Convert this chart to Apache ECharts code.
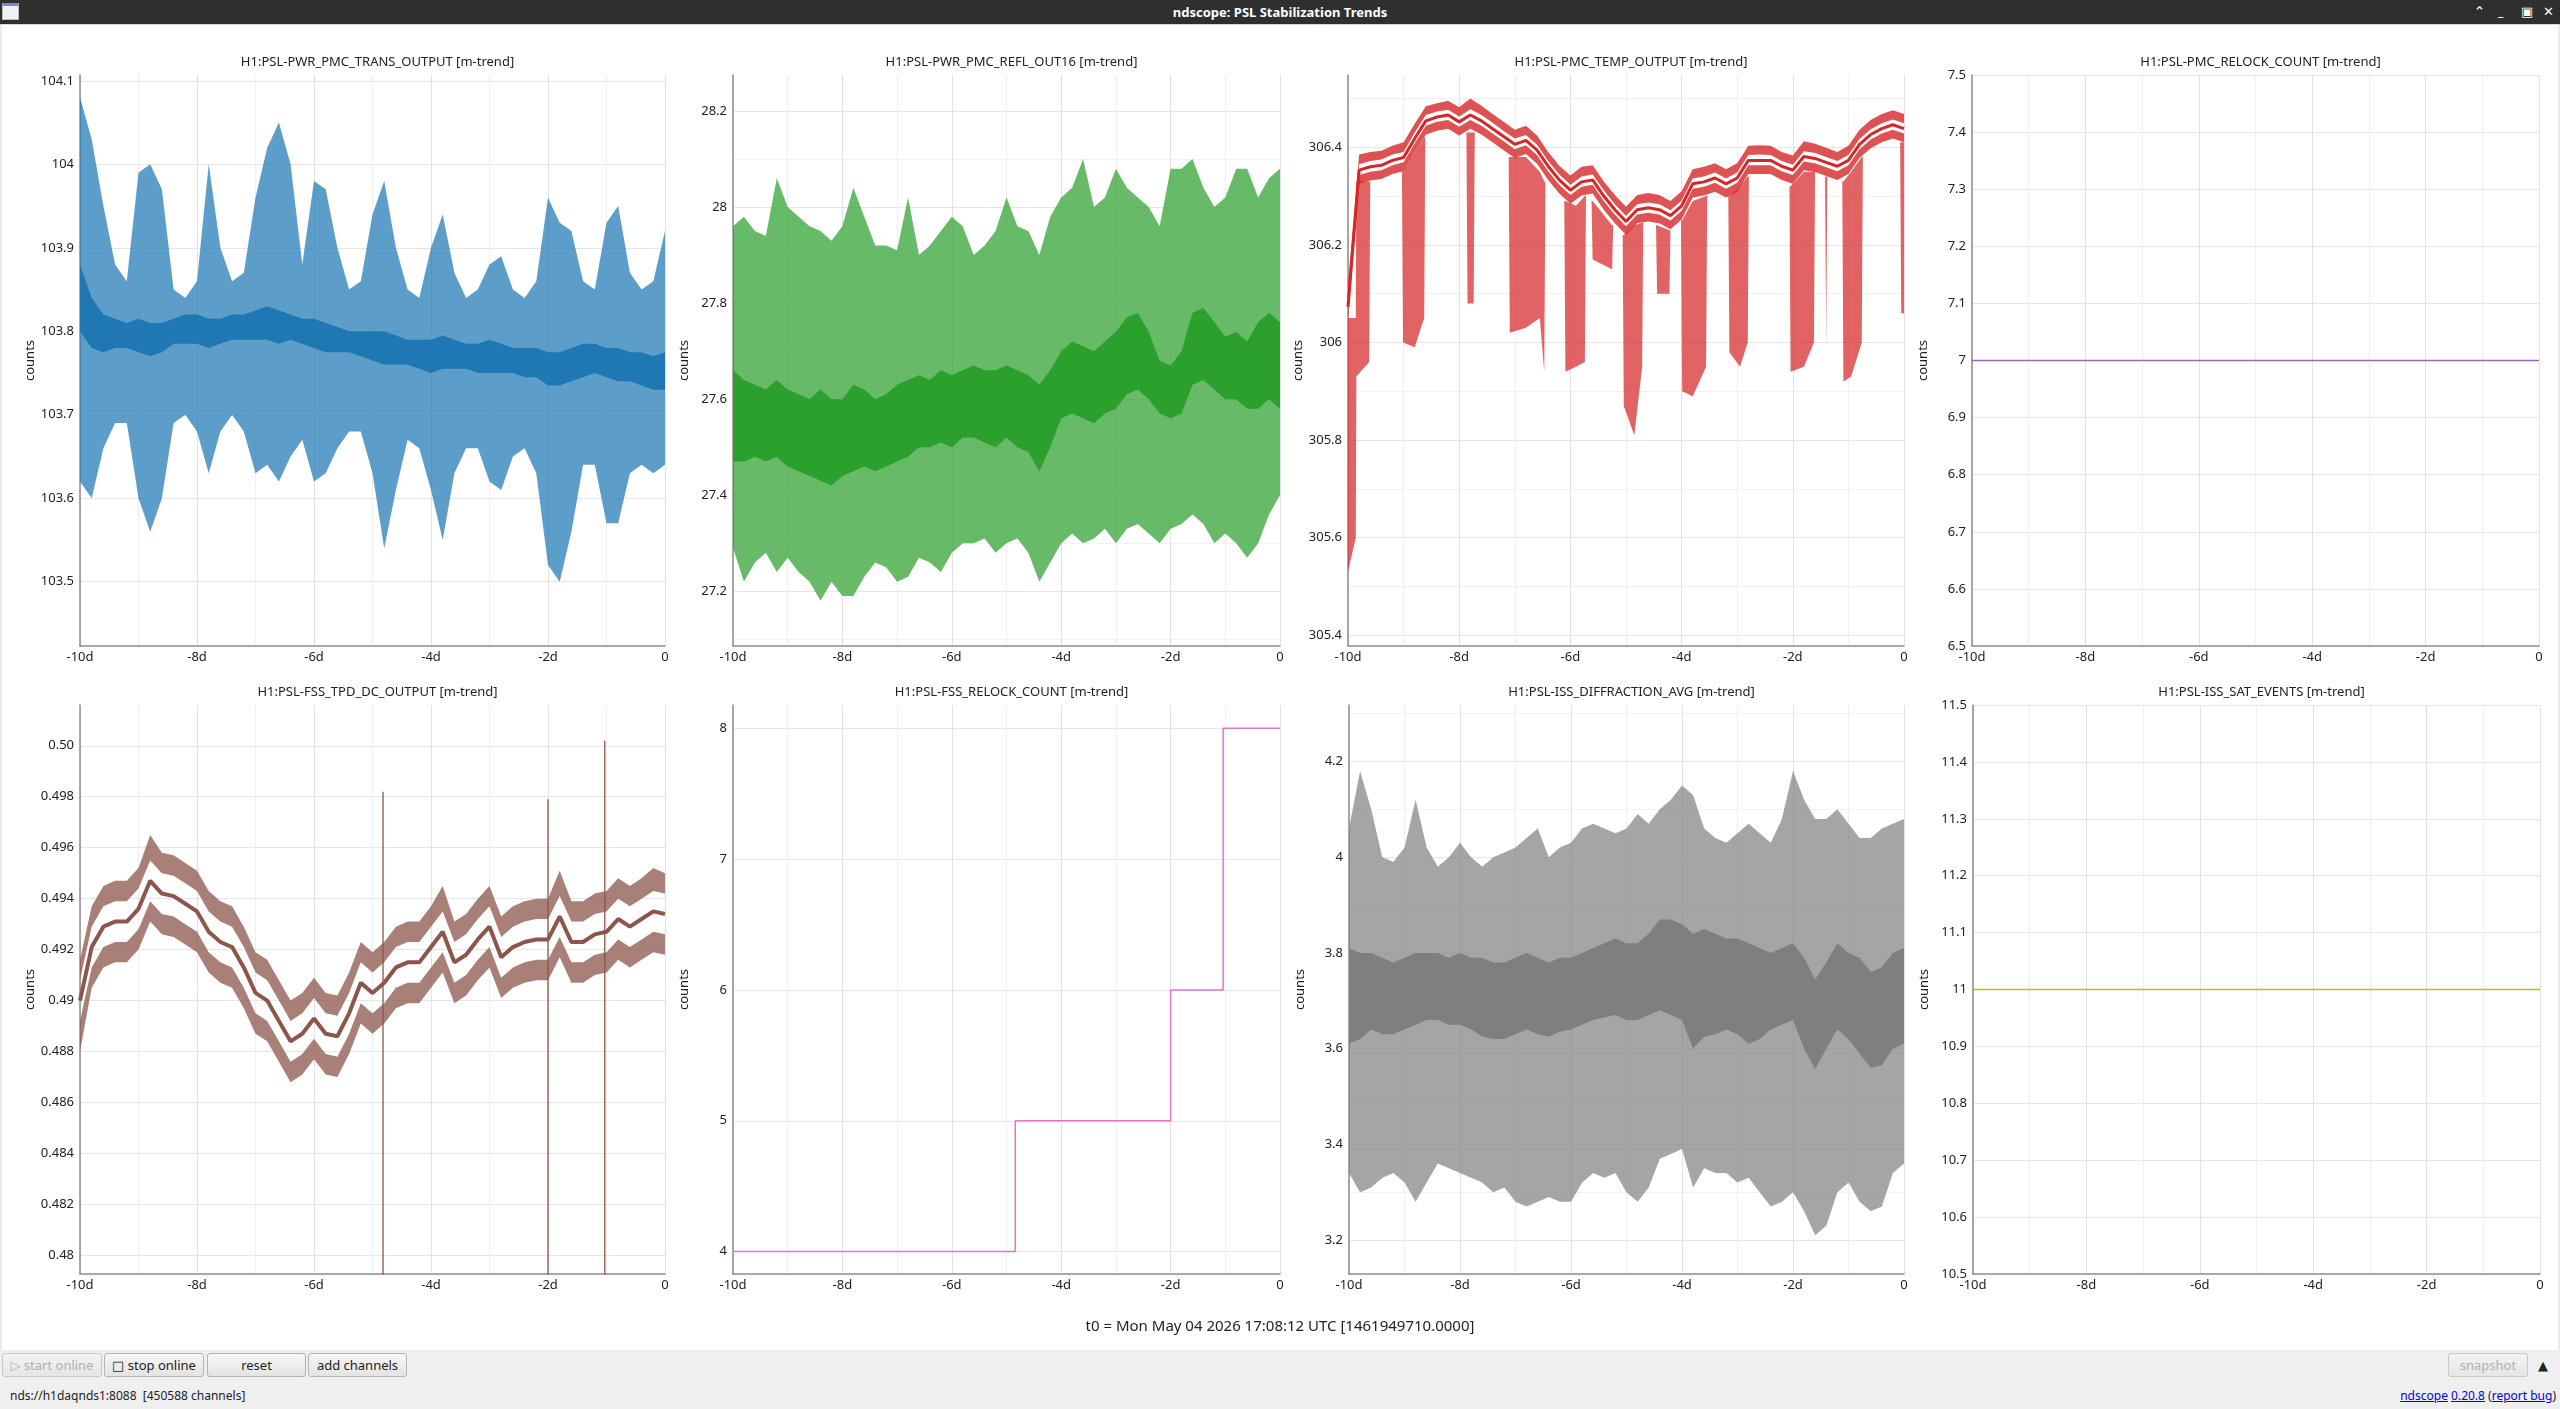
<!DOCTYPE html>
<html>
<head>
<meta charset="utf-8">
<title>ndscope: PSL Stabilization Trends</title>
<script src="https://cdn.jsdelivr.net/npm/echarts@6/dist/echarts.min.js"></script>
<style>
  html, body { margin: 0; padding: 0; width: 2560px; height: 1409px; overflow: hidden; background: #fff;
    font-family: "Noto Sans", "DejaVu Sans", sans-serif; color: #222; }
  #titlebar { position: absolute; left: 0; top: 0; width: 2560px; height: 24px; background: #2f2f2f;
    border-bottom: 1px solid #d8d8d8; z-index: 3; }
  #titlebar .name { position: absolute; left: 0; width: 2560px; top: 3px; text-align: center; color: #fff;
    font-size: 13px; font-weight: bold; }
  #titlebar .icon { position: absolute; left: 2px; top: 3px; width: 17px; height: 17px; background: #f2f2f2;
    border: 1px solid #bbb; border-top: 3px solid #6d8fc7; box-sizing: border-box; }
  #titlebar .btn { position: absolute; top: 2px; color: #fff; font-size: 13px; font-weight: bold; }
  #main { position: absolute; left: 0; top: 0; width: 2560px; height: 1350px; }
  #frame { position: absolute; left: 0; top: 25px; width: 2556px; height: 1325px; border-left: 2px solid #ececec;
    border-right: 2px solid #ececec; pointer-events: none; z-index: 2; }
  #t0 { position: absolute; left: 0; width: 2560px; top: 1315px; text-align: center; font-size: 15px; color: #222; }
  #bottom { position: absolute; left: 0; top: 1350px; width: 2560px; height: 59px; background: #efefef; }
  .qbtn { position: absolute; top: 3px; height: 24px; box-sizing: border-box; border: 1px solid #b4b4b4;
    border-radius: 3px; background: linear-gradient(#f7f7f7, #e3e3e3); font-size: 13px; line-height: 22px;
    text-align: center; color: #222; }
  .qbtn.off { color: #b0b0b0; border-color: #c8c8c8; background: linear-gradient(#f3f3f3, #e6e6e6); }
  #status { position: absolute; left: 10px; top: 37px; font-size: 12px; color: #222; }
  #links { position: absolute; right: 4px; top: 37px; font-size: 12px; color: #222; }
  #links a { color: #0000ee; text-decoration: underline; }
</style>
</head>
<body>
<div id="main"></div>
<div id="frame"></div>
<div id="titlebar">
  <div class="icon"></div>
  <div class="name">ndscope: PSL Stabilization Trends</div>
  <div class="btn" style="left:2474px">&#8963;</div>
  <div class="btn" style="left:2498px">_</div>
  <div class="btn" style="left:2521px">&#9635;</div>
  <div class="btn" style="left:2543px">&#10005;</div>
</div>
<div id="t0">t0 = Mon May 04 2026 17:08:12 UTC [1461949710.0000]</div>
<div id="bottom">
  <div class="qbtn off" style="left:2px;width:100px">&#9655; start online</div>
  <div class="qbtn" style="left:104px;width:100px">&#9633; stop online</div>
  <div class="qbtn" style="left:207px;width:99px">reset</div>
  <div class="qbtn" style="left:308px;width:99px">add channels</div>
  <div class="qbtn off" style="left:2448px;width:80px">snapshot</div>
  <div style="position:absolute;left:2538px;top:6px;font-size:13px;color:#222">&#9650;</div>
  <div id="status">nds://h1daqnds1:8088&nbsp;&nbsp;[450588 channels]</div>
  <div id="links"><a>ndscope</a> <a>0.20.8</a> (<a>report bug</a>)</div>
</div>
<script>
// time axis, days before t0
var days = [-10,-9.8,-9.6,-9.4,-9.2,-9,-8.8,-8.6,-8.4,-8.2,-8,-7.8,-7.6,-7.4,-7.2,-7,-6.8,-6.6,-6.4,-6.2,
  -6,-5.8,-5.6,-5.4,-5.2,-5,-4.8,-4.6,-4.4,-4.2,-4,-3.8,-3.6,-3.4,-3.2,-3,-2.8,-2.6,-2.4,-2.2,
  -2,-1.8,-1.6,-1.4,-1.2,-1,-0.8,-0.6,-0.4,-0.2,0];

var channels = ['H1:PSL-PWR_PMC_TRANS_OUTPUT [m-trend]', 'H1:PSL-PWR_PMC_REFL_OUT16 [m-trend]',
  'H1:PSL-PMC_TEMP_OUTPUT [m-trend]', 'H1:PSL-PMC_RELOCK_COUNT [m-trend]',
  'H1:PSL-FSS_TPD_DC_OUTPUT [m-trend]', 'H1:PSL-FSS_RELOCK_COUNT [m-trend]',
  'H1:PSL-ISS_DIFFRACTION_AVG [m-trend]', 'H1:PSL-ISS_SAT_EVENTS [m-trend]'];

// PMC transmitted power (envelope of max/min + mean band)
var transMaxHi = [104.08,104.03,103.95,103.88,103.86,103.99,104.0,103.97,103.85,103.84,
  103.86,104.0,103.9,103.86,103.87,103.96,104.02,104.05,104.0,103.88,
  103.98,103.97,103.9,103.85,103.86,103.94,103.98,103.9,103.85,103.84,
  103.9,103.94,103.87,103.84,103.85,103.88,103.89,103.85,103.84,103.86,
  103.96,103.93,103.92,103.86,103.85,103.93,103.95,103.87,103.85,103.86,103.92];
var transMeanHi = [103.88,103.84,103.82,103.815,103.81,103.815,103.81,103.81,103.815,103.82,
  103.82,103.815,103.815,103.82,103.82,103.825,103.83,103.825,103.82,103.815,
  103.815,103.81,103.805,103.8,103.8,103.8,103.8,103.795,103.79,103.79,
  103.79,103.795,103.79,103.785,103.785,103.79,103.785,103.78,103.78,103.78,
  103.775,103.775,103.78,103.785,103.785,103.78,103.78,103.775,103.775,103.77,103.775];
var transMeanLo = [103.8,103.78,103.775,103.78,103.78,103.775,103.77,103.775,103.785,103.785,
  103.785,103.78,103.785,103.79,103.79,103.79,103.79,103.785,103.79,103.785,
  103.78,103.775,103.775,103.775,103.77,103.765,103.76,103.76,103.76,103.755,
  103.75,103.755,103.755,103.755,103.75,103.75,103.75,103.75,103.745,103.745,
  103.735,103.735,103.74,103.745,103.75,103.745,103.74,103.74,103.735,103.73,103.73];
var transMinLo = [103.62,103.6,103.66,103.69,103.69,103.6,103.56,103.6,103.69,103.7,
  103.68,103.63,103.68,103.7,103.68,103.63,103.64,103.62,103.65,103.67,
  103.62,103.63,103.66,103.68,103.68,103.63,103.54,103.61,103.67,103.66,
  103.61,103.55,103.63,103.66,103.66,103.62,103.61,103.65,103.66,103.63,
  103.52,103.5,103.56,103.64,103.64,103.57,103.57,103.63,103.64,103.63,103.64];

// PMC reflected power
var reflMaxHi = [27.96,27.98,27.95,27.94,28.06,28.0,27.98,27.96,27.95,27.93,
  27.96,28.04,27.98,27.92,27.92,27.91,28.02,27.9,27.92,27.95,
  27.98,27.96,27.9,27.92,27.95,28.02,27.96,27.95,27.9,27.98,
  28.02,28.04,28.1,28.0,28.02,28.08,28.04,28.02,28.0,27.96,
  28.08,28.08,28.1,28.04,28.0,28.02,28.08,28.08,28.02,28.06,28.08];
var reflMeanHi = [27.66,27.64,27.63,27.62,27.64,27.62,27.61,27.6,27.62,27.6,
  27.6,27.63,27.62,27.6,27.61,27.63,27.64,27.65,27.64,27.66,
  27.65,27.66,27.67,27.66,27.66,27.67,27.66,27.65,27.63,27.66,
  27.7,27.72,27.71,27.7,27.72,27.74,27.77,27.78,27.74,27.68,
  27.67,27.7,27.78,27.79,27.76,27.73,27.74,27.72,27.76,27.78,27.76];
var reflMeanLo = [27.47,27.47,27.48,27.47,27.48,27.46,27.45,27.44,27.43,27.42,
  27.44,27.45,27.46,27.45,27.46,27.47,27.48,27.5,27.5,27.51,
  27.5,27.52,27.52,27.51,27.5,27.52,27.5,27.49,27.45,27.5,
  27.56,27.57,27.56,27.55,27.57,27.58,27.61,27.62,27.6,27.57,
  27.56,27.57,27.63,27.64,27.62,27.6,27.6,27.58,27.58,27.6,27.58];
var reflMinLo = [27.29,27.22,27.26,27.28,27.24,27.27,27.24,27.22,27.18,27.22,
  27.19,27.19,27.23,27.26,27.25,27.22,27.23,27.27,27.26,27.24,
  27.28,27.3,27.3,27.31,27.28,27.3,27.31,27.28,27.22,27.26,
  27.3,27.32,27.3,27.31,27.33,27.3,27.33,27.34,27.32,27.3,
  27.33,27.34,27.36,27.34,27.3,27.32,27.3,27.27,27.3,27.36,27.4];

// PMC temperature
var tempMean = [306.073,306.353,306.36,306.363,306.373,306.379,306.418,306.454,306.462,306.466,
  306.452,306.466,306.454,306.438,306.422,306.406,306.414,306.394,306.361,306.333,
  306.312,306.329,306.333,306.3,306.272,306.248,306.272,306.276,306.272,306.26,
  306.28,306.325,306.329,306.337,306.325,306.337,306.373,306.373,306.373,306.361,
  306.353,306.381,306.377,306.369,306.361,306.373,306.406,306.426,306.438,306.446,306.438];
var tempMaxHi = [306.12,306.385,306.39,306.393,306.403,306.41,306.448,306.484,306.49,306.495,
  306.482,306.5,306.485,306.468,306.452,306.436,306.444,306.424,306.39,306.362,
  306.342,306.36,306.363,306.33,306.302,306.278,306.302,306.306,306.302,306.29,
  306.31,306.355,306.36,306.367,306.355,306.367,306.403,306.404,306.403,306.39,
  306.383,306.412,306.407,306.399,306.39,306.403,306.436,306.456,306.468,306.476,306.468];
var tempMaxLo = [306.09,306.365,306.372,306.375,306.385,306.39,306.43,306.466,306.473,306.477,
  306.463,306.478,306.466,306.45,306.433,306.418,306.425,306.405,306.372,306.344,
  306.323,306.34,306.344,306.312,306.283,306.259,306.283,306.287,306.283,306.271,
  306.291,306.336,306.34,306.348,306.336,306.348,306.384,306.385,306.384,306.372,
  306.364,306.392,306.388,306.38,306.372,306.384,306.417,306.437,306.449,306.457,306.449];
var tempMinHi = [306.063,306.343,306.35,306.353,306.363,306.369,306.408,306.444,306.452,306.456,
  306.442,306.456,306.444,306.428,306.412,306.396,306.404,306.384,306.351,306.323,
  306.302,306.319,306.323,306.29,306.262,306.238,306.262,306.266,306.262,306.25,
  306.27,306.315,306.319,306.327,306.315,306.327,306.363,306.363,306.363,306.351,
  306.343,306.371,306.367,306.359,306.351,306.363,306.396,306.416,306.428,306.436,306.428];
var tempMinLo = [306.045,306.325,306.332,306.335,306.345,306.351,306.39,306.426,306.434,306.438,
  306.424,306.438,306.426,306.41,306.394,306.378,306.386,306.366,306.333,306.305,
  306.284,306.301,306.305,306.272,306.244,306.22,306.244,306.248,306.244,306.232,
  306.252,306.297,306.301,306.309,306.297,306.309,306.345,306.345,306.345,306.333,
  306.325,306.353,306.349,306.341,306.333,306.345,306.378,306.398,306.41,306.418,306.41];
// clusters of downward glitches in the minimum trace
var tempDipT = [-10,-9.86,-9.85,-9.62,-9.6,
  -9.03,-9.01,-8.8,-8.63,-8.61,
  -7.87,-7.85,-7.74,-7.72,
  -7.11,-7.09,-6.8,-6.55,-6.47,-6.45,
  -6.11,-6.09,-5.9,-5.74,-5.72,
  -5.62,-5.6,-5.25,-5.23,
  -5.06,-5.04,-4.85,-4.71,-4.69,
  -4.46,-4.44,-4.22,-4.2,
  -4.01,-3.99,-3.8,-3.56,-3.54,
  -3.16,-3.14,-2.95,-2.81,-2.79,
  -2.06,-2.04,-1.8,-1.62,-1.6,
  -1.42,-1.4,-1.38,
  -1.11,-1.09,-0.95,-0.76,-0.74,
  -0.07,-0.05,0];
var tempDipHi = [306.05,306.05,306.33,306.33,306.33,
  306.35,306.35,306.39,306.42,306.42,
  306.43,306.43,306.43,306.43,
  306.38,306.38,306.38,306.35,306.33,306.33,
  306.29,306.29,306.28,306.3,306.3,
  306.29,306.29,306.24,306.24,
  306.22,306.22,306.24,306.245,306.245,
  306.24,306.24,306.23,306.23,
  306.25,306.25,306.29,306.3,306.3,
  306.3,306.3,306.32,306.34,306.34,
  306.32,306.32,306.35,306.35,306.35,
  306.34,306.34,306.34,
  306.33,306.33,306.35,306.38,306.38,
  306.41,306.41,306.41];
var tempDipLo = [305.53,305.6,305.93,305.96,306.33,
  306.35,306.0,305.99,306.05,306.42,
  306.43,306.08,306.08,306.43,
  306.38,306.02,306.03,306.05,305.94,306.33,
  306.29,305.94,305.95,305.96,306.3,
  306.29,306.17,306.15,306.24,
  306.22,305.87,305.81,305.95,306.245,
  306.24,306.1,306.1,306.23,
  306.25,305.9,305.89,305.95,306.3,
  306.3,305.98,305.95,306.0,306.34,
  306.32,305.94,305.95,306.0,306.35,
  306.34,305.99,306.34,
  306.33,305.92,305.93,306.0,306.38,
  306.41,306.06,306.06];

// PMC relock count
var pmcRelockT = [-10, 0];
var pmcRelockN = [7, 7];

// FSS transmitted PD
var tpdMean = [0.4900,0.4921,0.4929,0.4931,0.4931,0.4936,0.4947,0.4942,0.4941,0.4938,
  0.4935,0.4927,0.4923,0.4921,0.4913,0.4903,0.4900,0.4892,0.4884,0.4887,
  0.4893,0.4887,0.4886,0.4895,0.4907,0.4903,0.4907,0.4913,0.4915,0.4915,
  0.4921,0.4927,0.4915,0.4918,0.4924,0.4929,0.4917,0.4921,0.4923,0.4924,
  0.4924,0.4933,0.4923,0.4923,0.4926,0.4927,0.4932,0.4929,0.4932,0.4935,0.4934];
var tpdMaxHi = [0.4916,0.4937,0.4945,0.4947,0.4947,0.4952,0.4965,0.4958,0.4957,0.4954,
  0.4951,0.4943,0.4939,0.4937,0.4929,0.4919,0.4916,0.4908,0.4900,0.4903,
  0.4909,0.4903,0.4902,0.4911,0.4923,0.4919,0.4923,0.4929,0.4931,0.4931,
  0.4937,0.4945,0.4931,0.4934,0.4940,0.4945,0.4933,0.4937,0.4939,0.4940,
  0.4940,0.4951,0.4939,0.4939,0.4942,0.4943,0.4948,0.4945,0.4948,0.4952,0.4950];
var tpdMaxLo = [0.4908,0.4929,0.4937,0.4939,0.4939,0.4944,0.4955,0.4950,0.4949,0.4946,
  0.4943,0.4935,0.4931,0.4929,0.4921,0.4911,0.4908,0.4900,0.4892,0.4895,
  0.4901,0.4895,0.4894,0.4903,0.4915,0.4911,0.4915,0.4921,0.4923,0.4923,
  0.4929,0.4935,0.4923,0.4926,0.4932,0.4937,0.4925,0.4929,0.4931,0.4932,
  0.4932,0.4941,0.4931,0.4931,0.4934,0.4935,0.4940,0.4937,0.4940,0.4943,0.4942];
var tpdMinHi = [0.4892,0.4913,0.4921,0.4923,0.4923,0.4928,0.4939,0.4934,0.4933,0.4930,
  0.4927,0.4919,0.4915,0.4913,0.4905,0.4895,0.4892,0.4884,0.4876,0.4879,
  0.4885,0.4879,0.4878,0.4887,0.4899,0.4895,0.4899,0.4905,0.4907,0.4907,
  0.4913,0.4919,0.4907,0.4910,0.4916,0.4921,0.4909,0.4913,0.4915,0.4916,
  0.4916,0.4925,0.4915,0.4915,0.4918,0.4919,0.4924,0.4921,0.4924,0.4927,0.4926];
var tpdMinLo = [0.4880,0.4905,0.4913,0.4915,0.4915,0.4920,0.4931,0.4926,0.4925,0.4922,
  0.4919,0.4911,0.4907,0.4905,0.4897,0.4887,0.4884,0.4876,0.4868,0.4871,
  0.4877,0.4871,0.4870,0.4879,0.4891,0.4887,0.4891,0.4897,0.4899,0.4899,
  0.4905,0.4911,0.4899,0.4902,0.4908,0.4913,0.4901,0.4905,0.4907,0.4908,
  0.4908,0.4917,0.4907,0.4907,0.4910,0.4911,0.4916,0.4913,0.4916,0.4919,0.4918];
// relock glitches: max reading and min dropping off the bottom of the plot
var tpdGlitchT = [-4.82, -2.0, -1.03];
var tpdGlitchTop = [0.4982, 0.4979, 0.5002];
var tpdGlitchLow = [0.47, 0.47, 0.47];

// FSS relock count (steps)
var fssRelockT = [-10, -4.84, -2.0, -1.04, 0];
var fssRelockN = [4, 5, 6, 8, 8];

// ISS diffraction
var diffMaxHi = [4.06,4.18,4.1,4.0,3.99,4.02,4.12,4.02,3.98,4.0,
  4.03,4.0,3.98,4.0,4.01,4.02,4.04,4.06,4.0,4.02,
  4.03,4.06,4.07,4.06,4.05,4.06,4.09,4.07,4.1,4.12,
  4.15,4.13,4.06,4.04,4.03,4.05,4.07,4.05,4.03,4.08,
  4.18,4.12,4.08,4.08,4.1,4.07,4.04,4.04,4.06,4.07,4.08];
var diffMeanHi = [3.81,3.8,3.8,3.79,3.78,3.79,3.8,3.8,3.8,3.79,
  3.8,3.79,3.79,3.78,3.78,3.79,3.8,3.79,3.78,3.79,
  3.79,3.8,3.81,3.82,3.83,3.82,3.82,3.84,3.87,3.87,
  3.86,3.84,3.85,3.84,3.83,3.83,3.82,3.81,3.8,3.81,
  3.82,3.79,3.745,3.78,3.82,3.8,3.79,3.76,3.77,3.8,3.81];
var diffMeanLo = [3.61,3.62,3.64,3.63,3.63,3.64,3.65,3.66,3.66,3.65,
  3.65,3.64,3.625,3.62,3.62,3.63,3.64,3.63,3.625,3.635,
  3.64,3.65,3.66,3.665,3.67,3.66,3.66,3.67,3.68,3.67,
  3.66,3.6,3.625,3.63,3.64,3.63,3.61,3.62,3.64,3.65,
  3.66,3.6,3.557,3.6,3.64,3.62,3.59,3.56,3.565,3.6,3.61];
var diffMinLo = [3.34,3.3,3.31,3.33,3.34,3.32,3.28,3.32,3.36,3.35,
  3.34,3.33,3.32,3.3,3.31,3.28,3.27,3.28,3.29,3.28,
  3.28,3.32,3.34,3.33,3.34,3.3,3.28,3.31,3.37,3.38,
  3.39,3.31,3.35,3.34,3.34,3.32,3.33,3.3,3.27,3.28,
  3.3,3.26,3.21,3.23,3.3,3.32,3.28,3.26,3.27,3.34,3.36];

// ISS saturation events
var issSatT = [-10, 0];
var issSatN = [11, 11];

// axis ranges as shown
var yRange = [[103.423, 104.107], [27.086, 28.275], [305.378, 306.548], [6.5, 7.5],
  [0.47927, 0.5016], [3.829, 8.177], [3.129, 4.318], [10.5, 11.5]];
var ySplit = [7, 6, 6, 10, 11, 4, 6, 10];
var yMinor = [false, true, true, false, false, false, true, false];
var yNiceEnds = [false, false, false, true, false, false, false, true];

var colors = ['#1f77b4', '#2ca02c', '#d62728', '#9467bd', '#8c564b', '#e377c2', '#7f7f7f', '#bcbd22'];

var boxes = [
  { left: 80, top: 75, width: 585, height: 571 },
  { left: 733, top: 75, width: 547, height: 571 },
  { left: 1348, top: 75, width: 556, height: 571 },
  { left: 1972, top: 75, width: 567, height: 571 },
  { left: 80, top: 705, width: 585, height: 569 },
  { left: 733, top: 705, width: 547, height: 569 },
  { left: 1349, top: 705, width: 555, height: 569 },
  { left: 1973, top: 705, width: 567, height: 569 }
];

var font = 'Noto Sans';

// filled band between two traces, drawn as one polygon
function band(ax, xs, lo, hi, color, opacity) {
  return {
    type: 'custom', xAxisIndex: ax, yAxisIndex: ax, clip: true, silent: true,
    data: xs.map(function (d, i) { return [d, lo[i], hi[i]]; }),
    encode: { x: 0, y: [1, 2] },
    renderItem: function (params, api) {
      if (params.dataIndex !== 0) return null;
      var pts = [];
      for (var i = 0; i < xs.length; i++) pts.push(api.coord([xs[i], hi[i]]));
      for (var j = xs.length - 1; j >= 0; j--) pts.push(api.coord([xs[j], lo[j]]));
      return { type: 'polygon', shape: { points: pts }, style: { fill: color, opacity: opacity } };
    }
  };
}

function trace(ax, xs, ys, color, width, step) {
  return {
    type: 'line', xAxisIndex: ax, yAxisIndex: ax, silent: true, symbol: 'none', step: step || false,
    data: xs.map(function (x, i) { return [x, ys[i]]; }),
    lineStyle: { color: color, width: width }
  };
}

var grids = [], xAxes = [], yAxes = [], titles = [];
boxes.forEach(function (b, i) {
  grids.push({ left: b.left, top: b.top, width: b.width, height: b.height, containLabel: false });
  titles.push({
    text: channels[i], left: b.left + b.width / 2, top: b.top - 24, textAlign: 'center',
    textStyle: { fontFamily: font, fontSize: 13, fontWeight: 'normal', color: '#222' }
  });
  xAxes.push({
    type: 'value', gridIndex: i, min: -10, max: 0, interval: 2,
    axisLine: { show: true, onZero: false, lineStyle: { color: '#8c8c8c', width: 1.5 } },
    axisTick: { show: false },
    minorTick: { show: false, splitNumber: 2 },
    axisLabel: { fontFamily: font, fontSize: 13, color: '#222', margin: 5,
      formatter: function (v) { return v === 0 ? '0' : v + 'd'; } },
    splitLine: { show: true, lineStyle: { color: '#e2e2e2', width: 1 } },
    minorSplitLine: { show: true, lineStyle: { color: '#efefef', width: 1 } }
  });
  var yl = {
    type: 'value', gridIndex: i, min: yRange[i][0], max: yRange[i][1], splitNumber: ySplit[i],
    name: 'counts', nameLocation: 'middle', nameGap: 42,
    nameTextStyle: { fontFamily: font, fontSize: 13, color: '#222' },
    axisLine: { show: true, onZero: false, lineStyle: { color: '#8c8c8c', width: 1.5 } },
    axisTick: { show: false },
    minorTick: { show: false, splitNumber: 2 },
    axisLabel: { fontFamily: font, fontSize: 13, color: '#222', margin: 6,
      showMinLabel: yNiceEnds[i], showMaxLabel: yNiceEnds[i] },
    splitLine: { show: true, showMinLine: false, showMaxLine: yNiceEnds[i],
      lineStyle: { color: '#e6e6e6', width: 1 } },
    minorSplitLine: { show: yMinor[i], lineStyle: { color: '#f2f2f2', width: 1 } }
  };
  if (i === 4) {
    yl.axisLabel.formatter = function (v) { return Math.abs(v - 0.5) < 1e-9 ? '0.50' : String(+v.toFixed(4)); };
  }
  yAxes.push(yl);
});

var series = [];
// PMC trans
series.push(band(0, days, transMinLo, transMaxHi, colors[0], 0.72));
series.push(band(0, days, transMeanLo, transMeanHi, colors[0], 1));
// PMC refl
series.push(band(1, days, reflMinLo, reflMaxHi, colors[1], 0.72));
series.push(band(1, days, reflMeanLo, reflMeanHi, colors[1], 1));
// PMC temp
series.push(band(2, tempDipT, tempDipLo, tempDipHi, colors[2], 0.72));
series.push(band(2, days, tempMaxLo, tempMaxHi, colors[2], 0.8));
series.push(band(2, days, tempMinLo, tempMinHi, colors[2], 0.8));
series.push(trace(2, days, tempMean, colors[2], 3));
// PMC relock
series.push(trace(3, pmcRelockT, pmcRelockN, colors[3], 1.5));
// FSS TPD
series.push(band(4, days, tpdMaxLo, tpdMaxHi, colors[4], 0.75));
series.push(band(4, days, tpdMinLo, tpdMinHi, colors[4], 0.75));
series.push(trace(4, days, tpdMean, colors[4], 4));
tpdGlitchT.forEach(function (t, k) {
  series.push(trace(4, [t, t], [tpdGlitchTop[k], tpdGlitchLow[k]], colors[4], 1.3));
});
// FSS relock
series.push(trace(5, fssRelockT, fssRelockN, colors[5], 1.5, 'end'));
// ISS diffraction
series.push(band(6, days, diffMinLo, diffMaxHi, colors[6], 0.7));
series.push(band(6, days, diffMeanLo, diffMeanHi, colors[6], 1));
// ISS sat
series.push(trace(7, issSatT, issSatN, colors[7], 1.5));

var chart = echarts.init(document.getElementById('main'), null, { renderer: 'canvas' });
chart.setOption({
  animation: false,
  backgroundColor: '#ffffff',
  textStyle: { fontFamily: font },
  title: titles,
  grid: grids,
  xAxis: xAxes,
  yAxis: yAxes,
  series: series
});
</script>
</body>
</html>
